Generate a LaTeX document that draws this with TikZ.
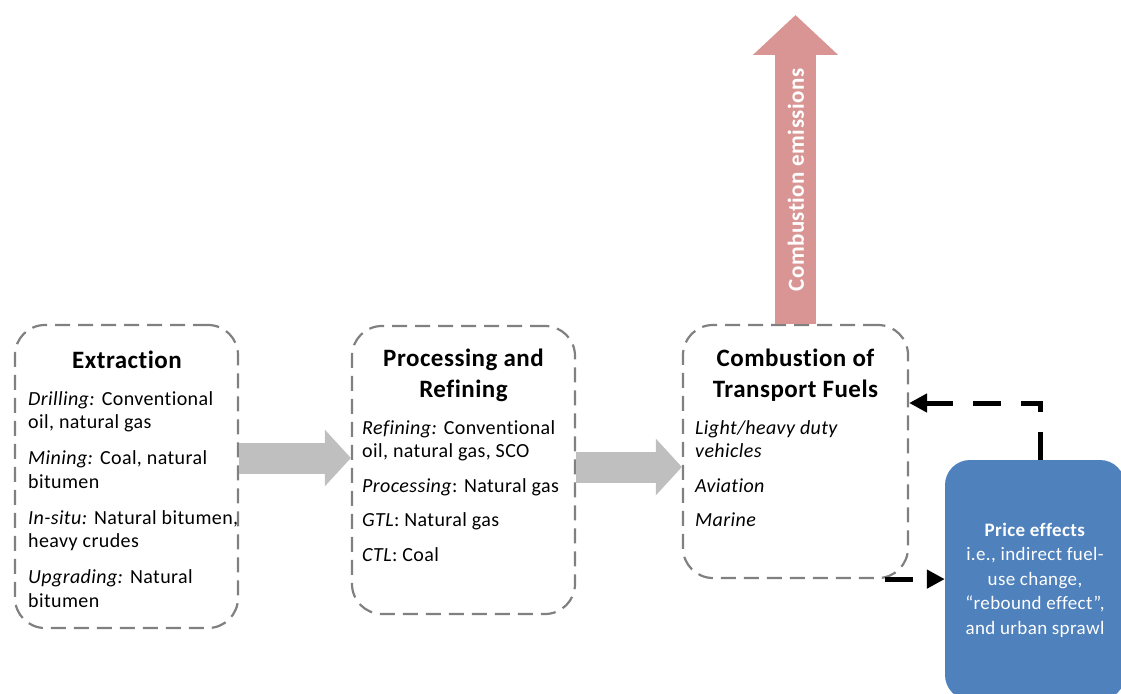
\documentclass[tikz,border=0pt]{standalone}
\usepackage{fontspec}
\setmainfont{Carlito}[LetterSpace=2, Ligatures=NoCommon]
\usepackage{tikz}
\usetikzlibrary{arrows.meta, positioning, calc}
\definecolor{boxgray}{HTML}{808080}
\definecolor{flowgray}{HTML}{BFBFBF}
\definecolor{emisred}{HTML}{D99594}
\definecolor{priceblue}{HTML}{4F81BD}

\begin{document}
\begin{tikzpicture}[x=1pt, y=-1pt,
    stage/.style={rectangle, draw=boxgray, line width=2.2pt, dash pattern=on 15pt off 8pt, rounded corners=30pt, inner sep=0pt},
    title/.style={font=\fontsize{25}{31}\selectfont\bfseries, align=center, inner sep=0pt, anchor=north},
    body/.style={font=\fontsize{20}{23.5}\selectfont, align=left, inner sep=0pt, anchor=north west},
    flow/.style={line width=31pt, flowgray, -{Triangle[length=26pt, width=55pt]}},
    fb/.style={line width=5pt, dash pattern=on 28pt off 20pt, -{Triangle[length=18pt, width=18pt]}},
    emis/.style={line width=41pt, emisred, -{Triangle[length=40pt, width=83pt]}}]
        \useasboundingbox (0,0) rectangle (1121,693);
        \clip (0,0) rectangle (1121,693);
        % the three stages
        \node[stage, minimum width=223pt, minimum height=303pt] (extr) at (126.5,476.5) {};
        \node[stage, minimum width=223pt, minimum height=288pt] (proc) at (463.5,470) {};
        \node[stage, minimum width=225pt, minimum height=253pt] (comb) at (795.5,451.5) {};
        \node[title] (extrtitle) at (127,351) {Extraction};
        \node[title] (proctitle) at (463.5,349) {Processing and\\ Refining};
        \node[title] (combtitle) at (795.5,349) {Combustion of\\ Transport Fuels};
        \node[body] (extrtext) at (28,391) {\textit{Drilling:} Conventional\\ oil, natural gas\\[12.5pt]
            \textit{Mining:} Coal, natural\\ bitumen\\[12.5pt]
            \textit{In-situ:} Natural bitumen,\\ heavy crudes\\[12.5pt]
            \textit{Upgrading:} Natural\\ bitumen};
        \node[body] (proctext) at (362,420) {\textit{Refining:} Conventional\\ oil, natural gas, SCO\\[11pt]
            \textit{Processing}: Natural gas\\[11pt]
            \textit{GTL}: Natural gas\\[11pt]
            \textit{CTL}: Coal};
        \node[body] (combtext) at (695,420) {\textit{Light/heavy duty}\\ \textit{vehicles}\\[11pt]
            \textit{Aviation}\\[11pt]
            \textit{Marine}};
        % price effects
        \node[rectangle, fill=priceblue, rounded corners=25pt, minimum width=180pt, minimum height=240pt,
            text=white, align=center, font=\fontsize{19}{24.5}\selectfont] (price) at (1035,580)
            {\textbf{Price effects}\\ i.e., indirect fuel-\\ use change,\\ “rebound effect”,\\ and urban sprawl};
        % flows
        \draw[flow] (extr.east |- 0,458) -- (proc.west |- 0,458);
        \draw[flow] (proc.east |- 0,467) -- (comb.west |- 0,467);
        \draw[emis] (comb.north) -- (comb.north |- 0,15);
        \node[rotate=90, text=white, font=\fontsize{23}{23}\selectfont\bfseries] (emistext) at (796,180) {Combustion emissions};
        % feedback loop
        \coordinate (bend) at (1040,403);
        \draw[fb] ([xshift=-24pt]comb.south east) -- (price.west |- comb.south east);
        \draw[fb] (price.north -| bend) -- (bend) -- (comb.east |- bend);
    \end{tikzpicture}
\end{document}
